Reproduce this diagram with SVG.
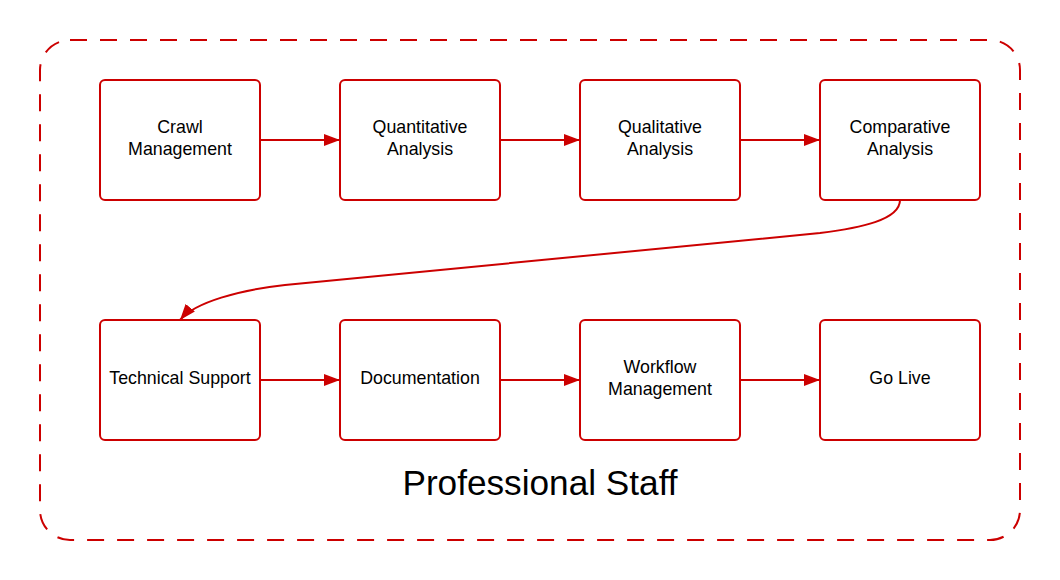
<svg xmlns="http://www.w3.org/2000/svg" width="1060" height="580" viewBox="0 0 1060 580">
<style>
.box{fill:#ffffff;stroke:#cc0000;stroke-width:2}
.lbl{font-family:"Liberation Sans",Arial,sans-serif;font-size:17.8px;fill:#000000;text-anchor:middle}
.conn{fill:none;stroke:#cc0000;stroke-width:2}
</style>
<defs>
<marker id="arr" viewBox="0 0 16 12" refX="16" refY="6" markerWidth="16" markerHeight="12" markerUnits="userSpaceOnUse" orient="auto">
<path d="M0,0 L16,6 L0,12 Z" fill="#cc0000"/>
</marker>
</defs>
<rect width="1060" height="580" fill="#ffffff"/>
<g id="container">
<rect x="40" y="40" width="980" height="500" rx="30" ry="30" fill="none" stroke="#cc0000" stroke-width="2" stroke-dasharray="17 13"/>
<text x="540" y="495" font-family="'Liberation Sans',Arial,sans-serif" font-size="35.2" text-anchor="middle" fill="#000000">Professional Staff</text>
</g>
<g id="connectors">
<path class="conn" d="M260,140 L340,140" marker-end="url(#arr)"/>
<path class="conn" d="M500,140 L580,140" marker-end="url(#arr)"/>
<path class="conn" d="M740,140 L820,140" marker-end="url(#arr)"/>
<path class="conn" d="M900,200 C900,220 860,228 820,233 L285,285 C240,290 195,302 180,320" marker-end="url(#arr)"/>
<path class="conn" d="M260,380 L340,380" marker-end="url(#arr)"/>
<path class="conn" d="M500,380 L580,380" marker-end="url(#arr)"/>
<path class="conn" d="M740,380 L820,380" marker-end="url(#arr)"/>
</g>
<g id="crawl-management">
<rect class="box" x="100" y="80" width="160" height="120" rx="5"/>
<text class="lbl" x="180" y="133">Crawl</text>
<text class="lbl" x="180" y="154.5">Management</text>
</g>
<g id="quantitative-analysis">
<rect class="box" x="340" y="80" width="160" height="120" rx="5"/>
<text class="lbl" x="420" y="133">Quantitative</text>
<text class="lbl" x="420" y="154.5">Analysis</text>
</g>
<g id="qualitative-analysis">
<rect class="box" x="580" y="80" width="160" height="120" rx="5"/>
<text class="lbl" x="660" y="133">Qualitative</text>
<text class="lbl" x="660" y="154.5">Analysis</text>
</g>
<g id="comparative-analysis">
<rect class="box" x="820" y="80" width="160" height="120" rx="5"/>
<text class="lbl" x="900" y="133">Comparative</text>
<text class="lbl" x="900" y="154.5">Analysis</text>
</g>
<g id="technical-support">
<rect class="box" x="100" y="320" width="160" height="120" rx="5"/>
<text class="lbl" x="180" y="384">Technical Support</text>
</g>
<g id="documentation">
<rect class="box" x="340" y="320" width="160" height="120" rx="5"/>
<text class="lbl" x="420" y="384">Documentation</text>
</g>
<g id="workflow-management">
<rect class="box" x="580" y="320" width="160" height="120" rx="5"/>
<text class="lbl" x="660" y="373">Workflow</text>
<text class="lbl" x="660" y="394.5">Management</text>
</g>
<g id="go-live">
<rect class="box" x="820" y="320" width="160" height="120" rx="5"/>
<text class="lbl" x="900" y="384">Go Live</text>
</g>
</svg>
